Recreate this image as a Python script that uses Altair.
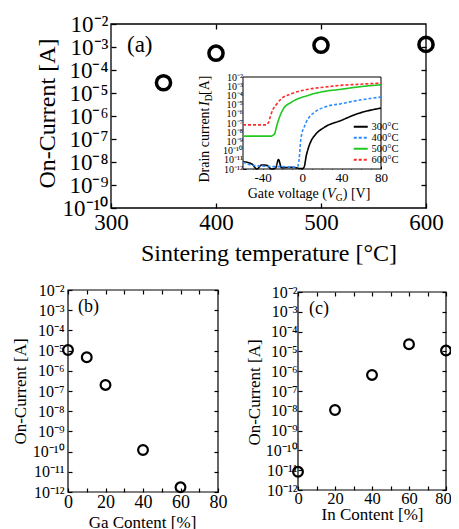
import altair as alt
import pandas as pd

FONT = "Liberation Serif"
W, H = 443, 521

# ---------------- data ----------------
# (a) on-current vs sintering temperature
temp_c = [350, 400, 500, 600]
on_current_a = [2.8e-5, 5.4e-4, 1.2e-3, 1.3e-3]

# (b) on-current vs Ga content
ga_content = [0, 10, 20, 40, 60]
on_current_b = [1.07e-5, 4.7e-6, 2.0e-7, 1.2e-10, 1.7e-12]

# (c) on-current vs In content
in_content = [0, 20, 40, 60, 80]
on_current_c = [8.3e-12, 1.1e-8, 6.5e-7, 2.3e-5, 1.1e-5]

# inset: transfer curves
series_labels = ["300°C", "400°C", "500°C", "600°C"]
vg_300 = [-60, -51, -46, -41, -36, -31, -27, -24, -21, -10, 0, 2, 4.3, 6, 9.3, 12.7, 22.7, 39.3, 56, 80]
id_300 = [6.3e-12, 3.5e-12, 1.0e-12, 2.75e-12, 2.5e-12, 1.0e-12, 1.26e-12, 1.05e-11, 1.4e-12, 1.5e-12,
          1.1e-12, 1.6e-12, 3.2e-11, 1.5e-10, 1.26e-9, 4.4e-9, 3.5e-8, 1.86e-7, 1.0e-6, 4.2e-6]
vg_400 = [-60, -52, -45, -38, -30, -20, -10, -4.7, -3, -1.3, 2.7, 6, 12.7, 22.7, 39.3, 56, 80]
id_400 = [5.6e-12, 2.8e-12, 2.2e-12, 2.0e-12, 1.8e-12, 1.8e-12, 1.6e-12, 1.8e-12, 1.26e-11, 1.86e-9,
          5.4e-8, 2.8e-7, 1.5e-6, 5.4e-6, 1.23e-5, 2.8e-5, 6.6e-5]
vg_500 = [-60, -32, -28, -25.7, -22.3, -19, -10.7, 6, 22.7, 39.3, 56, 80]
id_500 = [3.7e-9, 3.7e-9, 6.6e-9, 5.4e-8, 6.6e-7, 3.5e-6, 1.86e-5, 1.0e-4, 2.75e-4, 4.6e-4, 8.1e-4, 1.45e-3]
vg_600 = [-60, -37, -34, -32, -29.5, -27, -21, -11, 6, 23, 39, 56, 80]
id_600 = [6.3e-8, 6.3e-8, 1.26e-7, 6.3e-7, 3.2e-6, 7.9e-6, 4.4e-5, 1.5e-4, 4.6e-4, 8.1e-4, 1.23e-3, 1.58e-3, 2.2e-3]
series_colors = ["#000000", "#2b8cff", "#22c822", "#ff2a2a"]

# axis ticks
temp_ticks = [300, 400, 500, 600]
content_ticks = [0, 10, 20, 30, 40, 50, 60, 70, 80]
vg_ticks = [-60, -50, -40, -30, -20, -10, 0, 10, 20, 30, 40, 50, 60, 70, 80]
exp_a = list(range(-10, -1))
exp_bc = list(range(-12, -1))
dec_a = [10.0 ** e for e in exp_a]
dec_bc = [10.0 ** e for e in exp_bc]

# ---------------- helpers ----------------
SUP = str.maketrans("-0123456789", "⁻⁰¹²³⁴⁵⁶⁷⁸⁹")
NB = "\u00a0"


def pow_expr(exps):
    expr = "''"
    for e in sorted(exps):
        lab = "10" + str(e).translate(SUP)
        expr = f"datum.value > {10 ** (e - 0.5):.4e} ? '{lab}' : ({expr})"
    return expr


def every(n):
    return f"datum.value % {n} == 0 ? toString(datum.value) : ''"


def frame(xs, ys, xdom, ydom, top_vals, right_vals, top_off, right_off, tick, sw):
    df = pd.DataFrame({"x0": [xdom[0]], "x1": [xdom[1]], "y0": [ydom[0]], "y1": [ydom[1]]})
    return alt.Chart(df).mark_rect(filled=False, color="black", strokeWidth=sw, fillOpacity=0).encode(
        x=alt.X("x0:Q", scale=xs, axis=alt.Axis(orient="top", values=top_vals, labels=False, title=None,
                                                tickSize=tick, tickWidth=sw, offset=top_off)),
        x2="x1:Q",
        y=alt.Y("y0:Q", scale=ys, axis=alt.Axis(orient="right", values=right_vals, labels=False, title=None,
                                                tickSize=tick, tickWidth=sw, offset=right_off)),
        y2="y1:Q",
    )


def txt(text, x, y, size, angle=0, align="left", baseline="middle", style="normal"):
    return alt.Chart(alt.Data(values=[{}])).mark_text(
        text=text, font=FONT, fontSize=size, angle=angle, align=align, baseline=baseline,
        fontStyle=style, color="black").encode(x=alt.value(x), y=alt.value(y))


# ---------------- panel (a) ----------------
xa = alt.Scale(domain=[300, 600], range=[103, 418], nice=False, zero=False)
ya = alt.Scale(type="log", domain=[1e-10, 1e-2], range=[200, 16], nice=False)
df_a = pd.DataFrame({"temp": temp_c, "cur": on_current_a})
pts_a = alt.Chart(df_a).mark_point(shape="circle", filled=False, size=200, strokeWidth=3.5,
                                   color="black", opacity=1).encode(
    x=alt.X("temp:Q", scale=xa, axis=alt.Axis(
        orient="bottom", values=temp_ticks, offset=195 - H, tickSize=5, tickWidth=1.3,
        labelFontSize=23, labelPadding=3, title="Sintering temperature [°C]", titleFontSize=24,
        titleX=260.5, titleY=50.5, titleBaseline="middle")),
    y=alt.Y("cur:Q", scale=ya, axis=alt.Axis(
        orient="left", values=dec_a, offset=-108, tickSize=5, tickWidth=1.3, labelExpr=pow_expr(exp_a),
        labelFontSize=23, labelPadding=3, title="On-Current [A]", titleFontSize=24,
        titleX=39.5 - 108, titleY=105, titleBaseline="middle")),
)
panel_a = alt.layer(
    frame(xa, ya, [300, 600], [1e-10, 1e-2], [400, 500], dec_a[1:-1], -(16 + 5), (418 - 5) - W, 5, 1.3),
    pts_a,
).resolve_axis(x="independent", y="independent")

# ---------------- inset ----------------
xi = alt.Scale(domain=[-60, 80], range=[235, 373], nice=False, zero=False)
yi = alt.Scale(type="log", domain=[1e-12, 1e-2], range=[161, 69], nice=False)
rows = []
for lab, vs, ids in zip(series_labels, [vg_300, vg_400, vg_500, vg_600], [id_300, id_400, id_500, id_600]):
    for v, i in zip(vs, ids):
        rows.append({"T": lab, "V": v, "I": i})
df_i = pd.DataFrame(rows)
legend_i = alt.Legend(orient="none", legendX=347.5, legendY=113.5, title=None, labelFont=FONT,
                      labelFontSize=10.5, labelColor="black", symbolType="M-1.75,0H1.75", symbolSize=64,
                      symbolStrokeWidth=2, rowPadding=0, labelOffset=5.5, padding=0)
bg_i = alt.Chart(pd.DataFrame({"x0": [-60], "x1": [80], "y0": [1e-12], "y1": [1e-2]})).mark_rect(
    fill="white", stroke="black", strokeWidth=1).encode(
    x=alt.X("x0:Q", scale=xi, axis=None), x2="x1:Q",
    y=alt.Y("y0:Q", scale=yi, axis=None), y2="y1:Q")
lines_i = alt.Chart(df_i).mark_line(strokeWidth=1.6, interpolate="monotone").encode(
    x=alt.X("V:Q", scale=xi, axis=alt.Axis(
        orient="bottom", values=vg_ticks, offset=(161 - 3) - H, tickSize=3, tickWidth=1,
        labelExpr=every(40), labelFontSize=13, labelPadding=2, title=None)),
    y=alt.Y("I:Q", scale=yi, axis=alt.Axis(
        orient="left", values=dec_bc, offset=-(235 + 3), tickSize=3, tickWidth=1,
        labelExpr=pow_expr(exp_bc), labelFontSize=10, labelPadding=0.5, title=None)),
    color=alt.Color("T:N", scale=alt.Scale(domain=series_labels, range=series_colors), legend=legend_i),
    strokeDash=alt.StrokeDash("T:N", scale=alt.Scale(domain=series_labels,
                                                     range=[[1, 0], [3, 2], [1, 0], [3, 2]]), legend=legend_i),
)
inset = alt.layer(bg_i, lines_i).resolve_axis(x="independent", y="independent")

# ---------------- panel (b) ----------------
xb = alt.Scale(domain=[0, 80], range=[60, 210], nice=False, zero=False)
yb = alt.Scale(type="log", domain=[1e-12, 1e-2], range=[484, 282], nice=False)
df_b = pd.DataFrame({"c": ga_content, "cur": on_current_b})
pts_b = alt.Chart(df_b).mark_point(shape="circle", filled=False, size=95, strokeWidth=2.2,
                                   color="black", opacity=1).encode(
    x=alt.X("c:Q", scale=xb, axis=alt.Axis(
        orient="bottom", values=content_ticks, offset=(484 - 4) - H, tickSize=4, tickWidth=1.2,
        labelExpr=every(20), labelFontSize=18, labelPadding=1, title="Ga Content [%]", titleFontSize=17,
        titleX=134, titleY=34.8, titleBaseline="middle")),
    y=alt.Y("cur:Q", scale=yb, axis=alt.Axis(
        orient="left", values=dec_bc, offset=-(60 + 4), tickSize=4, tickWidth=1.2,
        labelExpr=pow_expr(exp_bc), labelFontSize=16, labelPadding=4, title="On-Current [A]",
        titleFontSize=17, titleX=12 - 64, titleY=383, titleBaseline="middle")),
)
panel_b = alt.layer(
    frame(xb, yb, [0, 80], [1e-12, 1e-2], content_ticks, dec_bc, -(282 + 4), (210 - 4) - W, 4, 1.2),
    pts_b,
).resolve_axis(x="independent", y="independent")

# ---------------- panel (c) ----------------
xc = alt.Scale(domain=[0, 80], range=[290, 438], nice=False, zero=False)
yc = alt.Scale(type="log", domain=[1e-12, 1e-2], range=[482, 284], nice=False)
df_c = pd.DataFrame({"c": in_content, "cur": on_current_c})
pts_c = alt.Chart(df_c).mark_point(shape="circle", filled=False, size=95, strokeWidth=2.2,
                                   color="black", opacity=1).encode(
    x=alt.X("c:Q", scale=xc, axis=alt.Axis(
        orient="bottom", values=content_ticks, offset=(482 - 4) - H, tickSize=4, tickWidth=1.2,
        labelExpr=every(20), labelFontSize=16.5, labelPadding=0.6, title="In Content [%]", titleFontSize=17,
        labelOffset={"condition": {"test": "datum.value == 80", "value": -3}, "value": 0},
        titleX=364, titleY=28, titleBaseline="middle")),
    y=alt.Y("cur:Q", scale=yc, axis=alt.Axis(
        orient="left", values=dec_bc, offset=-(290 + 4), tickSize=4, tickWidth=1.2,
        labelExpr=pow_expr(exp_bc), labelFontSize=16, labelPadding=1, title="On-Current [A]",
        titleFontSize=17, titleX=246 - 294, titleY=384, titleBaseline="middle")),
)
panel_c = alt.layer(
    frame(xc, yc, [0, 80], [1e-12, 1e-2], content_ticks, dec_bc, -(284 + 4), (438 - 4) - W, 4, 1.2),
    pts_c,
).resolve_axis(x="independent", y="independent")

# ---------------- text annotations ----------------
texts = [
    txt("(a)", 119, 37, 23),
    txt("(b)", 70, 298.5, 18),
    txt("(c)", 301, 301, 18),
    # inset x title: Gate voltage (V_G) [V]
    txt("Gate voltage (", 319, 186, 14, align="right"),
    txt("V", 319, 186, 14, style="italic"),
    txt("G", 327.8, 189.5, 9.5),
    txt(")" + NB + "[V]", 334.8, 186, 14),
    # inset y title: Drain current I_D [A]
    txt("Drain current" + NB, 197, 99.5, 14, angle=270, align="right"),
    txt("I", 197, 98, 14, angle=270, style="italic"),
    txt("D", 200.5, 93.3, 9.5, angle=270),
    txt(NB + "[A]", 197, 87, 14, angle=270),
]

chart = alt.layer(panel_a, inset, panel_b, panel_c, *texts).resolve_scale(
    x="independent", y="independent", color="independent", strokeDash="independent"
).properties(
    width=W, height=H, autosize=alt.AutoSizeParams(type="none"), padding=0
).configure_view(stroke=None).configure_axis(
    labelFont=FONT, titleFont=FONT, labelColor="black", titleColor="black", tickColor="black",
    titleFontWeight="normal", grid=False, domain=False, labelFlush=False, labelOverlap=False, zindex=1,
)

chart.save("out.html", embed_options={"renderer": "svg", "actions": False})
